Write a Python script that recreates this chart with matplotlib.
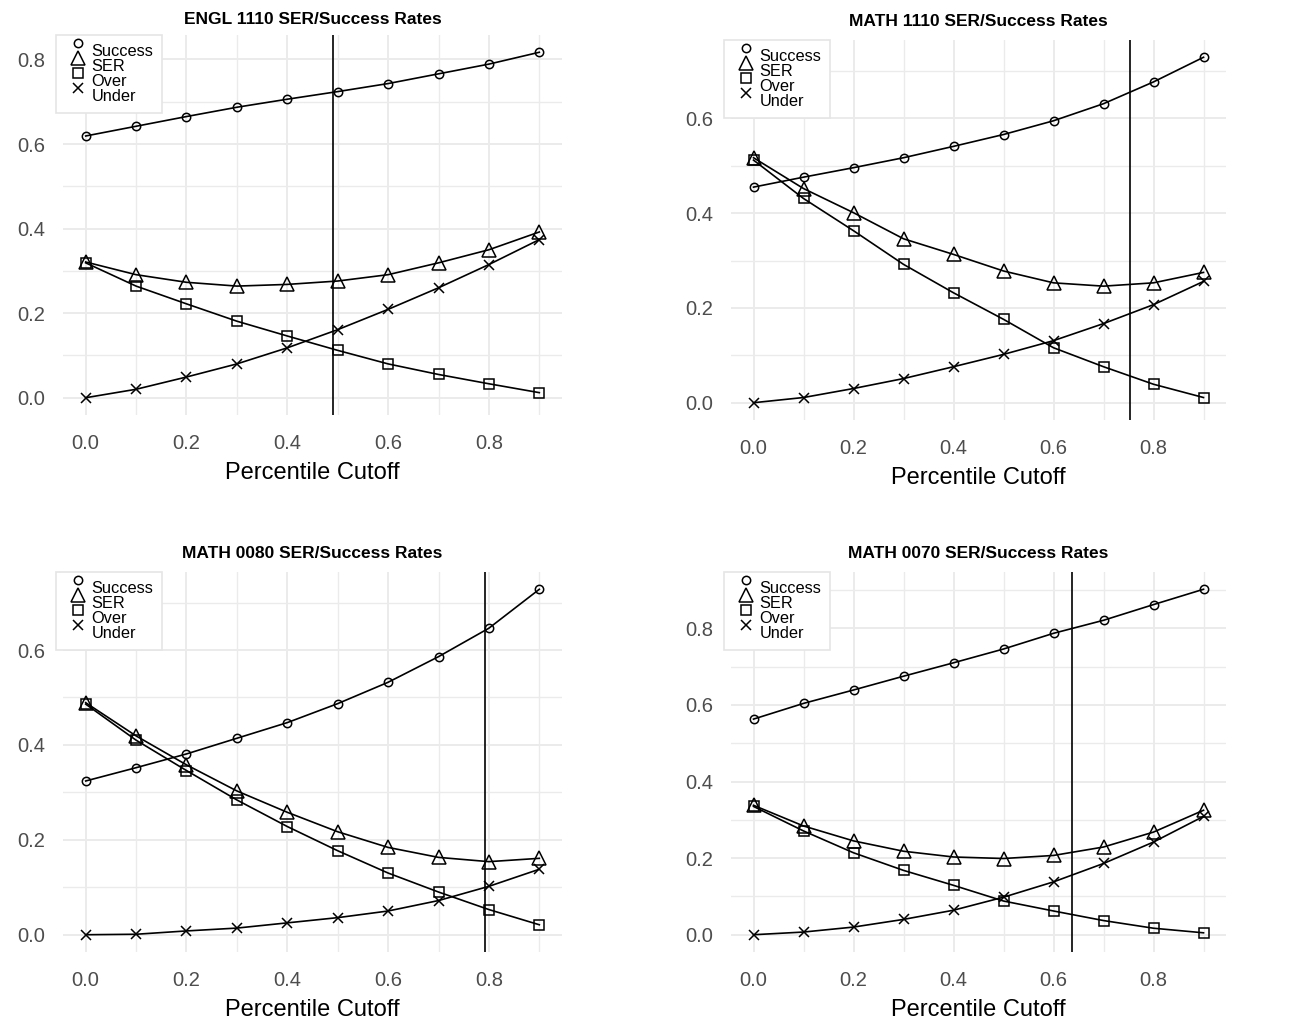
import matplotlib.pyplot as plt
from matplotlib.lines import Line2D
from matplotlib.legend_handler import HandlerLine2D
from matplotlib.ticker import MultipleLocator, FormatStrFormatter

plt.rcParams['font.family'] = ['Liberation Sans', 'DejaVu Sans']

cutoff = [0.0, 0.1, 0.2, 0.3, 0.4, 0.5, 0.6, 0.7, 0.8, 0.9]

# ENGL 1110
engl1110_success = [0.619, 0.642, 0.665, 0.687, 0.706, 0.724, 0.743, 0.766, 0.789, 0.817]
engl1110_ser = [0.321, 0.291, 0.273, 0.264, 0.268, 0.276, 0.291, 0.319, 0.350, 0.392]
engl1110_over = [0.319, 0.264, 0.222, 0.181, 0.146, 0.112, 0.080, 0.055, 0.033, 0.012]
engl1110_under = [0.000, 0.020, 0.049, 0.080, 0.118, 0.161, 0.209, 0.260, 0.315, 0.374]
engl1110_cut = 0.49

# MATH 1110
math1110_success = [0.455, 0.476, 0.496, 0.517, 0.541, 0.566, 0.595, 0.631, 0.677, 0.729]
math1110_ser = [0.517, 0.452, 0.401, 0.346, 0.313, 0.278, 0.253, 0.246, 0.253, 0.275]
math1110_over = [0.512, 0.431, 0.363, 0.292, 0.232, 0.176, 0.116, 0.076, 0.039, 0.011]
math1110_under = [0.000, 0.011, 0.030, 0.051, 0.076, 0.102, 0.131, 0.167, 0.207, 0.256]
math1110_cut = 0.752

# MATH 0080
math0080_success = [0.324, 0.352, 0.381, 0.414, 0.447, 0.487, 0.532, 0.586, 0.646, 0.728]
math0080_ser = [0.489, 0.419, 0.358, 0.303, 0.258, 0.217, 0.184, 0.163, 0.154, 0.161]
math0080_over = [0.486, 0.410, 0.346, 0.284, 0.228, 0.177, 0.130, 0.090, 0.053, 0.021]
math0080_under = [0.000, 0.001, 0.008, 0.014, 0.025, 0.036, 0.050, 0.072, 0.102, 0.138]
math0080_cut = 0.793

# MATH 0070
math0070_success = [0.563, 0.604, 0.639, 0.675, 0.710, 0.746, 0.787, 0.821, 0.862, 0.902]
math0070_ser = [0.338, 0.284, 0.245, 0.218, 0.203, 0.199, 0.207, 0.229, 0.268, 0.325]
math0070_over = [0.335, 0.271, 0.214, 0.168, 0.129, 0.088, 0.062, 0.037, 0.017, 0.005]
math0070_under = [0.000, 0.007, 0.020, 0.040, 0.064, 0.098, 0.138, 0.186, 0.242, 0.309]
math0070_cut = 0.636

W, H = 1304, 1026

series_style = [
    ("Success", "o", 6),
    ("SER", "^", 9.5),
    ("Over", "s", 7),
    ("Under", "x", 7.5),
]


class RaisedMarker(HandlerLine2D):
    # legend keys sit a bit above their labels, like the R legend
    def create_artists(self, legend, orig_handle, xdescent, ydescent,
                       width, height, fontsize, trans):
        arts = super().create_artists(legend, orig_handle, xdescent, ydescent,
                                      width, height, fontsize, trans)
        for a in arts:
            a.set_ydata([y + 0.42 * fontsize for y in a.get_ydata()])
        return arts


def draw_panel(rect, title, data, cut, title_pad):
    left, top, right, bottom = rect
    ax = fig.add_axes([left / W, 1 - bottom / H, (right - left) / W, (bottom - top) / H])

    for values, (name, marker, ms) in zip(data, series_style):
        ax.plot(cutoff, values, color='black', lw=1.2, marker=marker, ms=ms,
                mfc='none', mec='black', mew=1.1, zorder=3)
    ax.axvline(cut, color='black', lw=1.2, zorder=4)

    ax.xaxis.set_major_locator(MultipleLocator(0.2))
    ax.xaxis.set_minor_locator(MultipleLocator(0.1))
    ax.yaxis.set_major_locator(MultipleLocator(0.2))
    ax.yaxis.set_minor_locator(MultipleLocator(0.1))
    ax.xaxis.set_major_formatter(FormatStrFormatter('%.1f'))
    ax.yaxis.set_major_formatter(FormatStrFormatter('%.1f'))

    ax.grid(which='major', color='#ebebeb', lw=1.4)
    ax.grid(which='minor', color='#ebebeb', lw=1.0)
    ax.set_axisbelow(True)
    for s in ax.spines.values():
        s.set_visible(False)
    ax.tick_params(which='both', length=0, labelsize=14.5, labelcolor='#4d4d4d')
    ax.tick_params(axis='y', pad=13)
    ax.tick_params(axis='x', pad=14)

    ax.set_title(title, fontsize=12.5, fontweight='bold', pad=title_pad)
    ax.set_xlabel('Percentile Cutoff', fontsize=17, labelpad=6)

    handles = [Line2D([], [], ls='none', marker=m, ms=ms, mfc='none',
                      mec='black', mew=1.1, label=name)
               for name, m, ms in series_style]
    leg = ax.legend(handles=handles, loc='upper left', bbox_to_anchor=(-0.014, 1.0),
                    borderaxespad=0, fontsize=11.8, labelspacing=0.0,
                    handlelength=1.6, handletextpad=0.0, borderpad=0.55,
                    fancybox=False, framealpha=1, edgecolor='#e5e5e5',
                    handler_map={Line2D: RaisedMarker()})
    leg.get_frame().set_linewidth(1.2)
    return ax


fig = plt.figure(figsize=(W / 100, H / 100), dpi=100)

draw_panel((63, 35, 562, 415), 'ENGL 1110 SER/Success Rates',
           [engl1110_success, engl1110_ser, engl1110_over, engl1110_under], engl1110_cut, 8)
draw_panel((731, 40, 1226, 420), 'MATH 1110 SER/Success Rates',
           [math1110_success, math1110_ser, math1110_over, math1110_under], math1110_cut, 10)
draw_panel((63, 572, 562, 952), 'MATH 0080 SER/Success Rates',
           [math0080_success, math0080_ser, math0080_over, math0080_under], math0080_cut, 10)
draw_panel((731, 572, 1226, 952), 'MATH 0070 SER/Success Rates',
           [math0070_success, math0070_ser, math0070_over, math0070_under], math0070_cut, 10)

plt.savefig('out.png', dpi=100)
plt.close()
